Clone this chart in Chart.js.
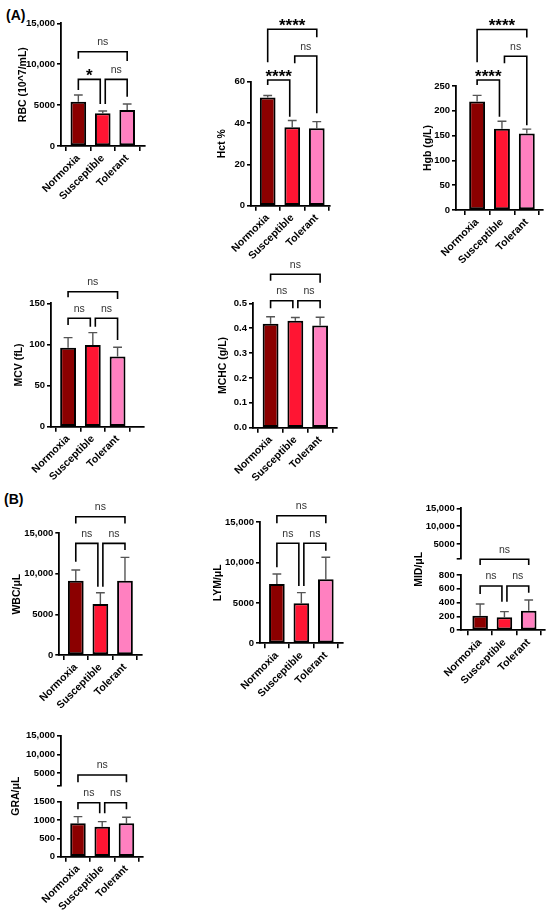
<!DOCTYPE html>
<html><head><meta charset="utf-8">
<script src="https://cdn.jsdelivr.net/npm/chart.js@4.4.1/dist/chart.umd.min.js"></script>
<style>
html,body{margin:0;padding:0;background:#fff;}
#wrap{position:relative;width:550px;height:911px;overflow:hidden;background:#fff;}
#wrap canvas{position:absolute;}
.lbl{position:absolute;font:bold 14px "Liberation Sans",Arial,sans-serif;line-height:14px;color:#000;}
</style></head><body>
<div id="wrap">
<div class="lbl" style="left:6px;top:8px">(A)</div>
<div class="lbl" style="left:4px;top:492px">(B)</div>
</div>
<script>
// ---------- data ----------
const categories = ['Normoxia', 'Susceptible', 'Tolerant'];

const rbcMean = [5420, 4000, 4400];   const rbcSD = [810, 280, 730];
const hctMean = [52.3, 38.0, 37.5];   const hctSD = [1.0, 3.2, 3.2];
const hgbMean = [219, 164, 154];      const hgbSD = [12, 15, 9];
const mcvMean = [96.1, 99.4, 85.2];   const mcvSD = [12.2, 15.0, 11.4];
const mchcMean = [0.418, 0.430, 0.411]; const mchcSD = [0.028, 0.013, 0.033];
const wbcMean = [9150, 6280, 9150];   const wbcSD = [1320, 1390, 2880];
const lymMean = [7360, 4960, 7940];   const lymSD = [1240, 1320, 2730];
const midMean = [212, 188, 284];      const midSD = [169, 82, 155];
const graMean = [912, 820, 912];      const graSD = [181, 136, 164];

const ticks15k = [0, 5000, 10000, 15000];
const hctTicks = [0, 20, 40, 60];
const hgbTicks = [0, 50, 100, 150, 200, 250];
const mcvTicks = [0, 50, 100, 150];
const mchcTicks = [0, 0.1, 0.2, 0.3, 0.4, 0.5];
const midLowTicks = [0, 200, 400, 600, 800];
const midHighTicks = [1000, 5000, 10000, 15000];
const graLowTicks = [0, 500, 1000, 1500];
const graHighTicks = [1500, 5000, 10000, 15000];

// significance brackets: [from, to, label, level, left leg end, right leg end]
const rbcSig = [[0,2,'ns',11520,10670,10390],[0,1,'*',8150,6840,5130],[1,2,'ns',8150,5130,6020]];
const hctSig = [[0,2,'****',85.4,69.4,81.5],[0,1,'****',60.8,58.4,43.1],[1,2,'ns',72.4,68.9,44.7]];
const hgbSig = [[0,2,'****',364,298,348],[0,1,'****',262,252,188],[1,2,'ns',310,296,171]];
const mcvSig = [[0,2,'ns',164.1,157.3,155.2],[0,1,'ns',131.8,123.6,121.6],[1,2,'ns',131.8,121.6,105.4]];
const mchcSig = [[0,2,'ns',0.617,0.591,0.583],[0,1,'ns',0.510,0.480,0.480],[1,2,'ns',0.510,0.480,0.480]];
const wbcSig = [[0,2,'ns',17040,16220,16220],[0,1,'ns',13760,11490,8410],[1,2,'ns',13760,8410,12930]];
const lymSig = [[0,2,'ns',15820,14880,14880],[0,1,'ns',12400,9420,7100],[1,2,'ns',12400,7100,11480]];
const midSig = [[0,2,'ns',1027,944,944],[0,1,'ns',641,525,414],[1,2,'ns',641,414,544]];
const graSig = [[0,2,'ns',2229,2030,2030],[0,1,'ns',1473,1293,1184],[1,2,'ns',1473,1184,1293]];

// ---------- styling ----------
const FONT = '"Liberation Sans", Arial, Helvetica, sans-serif';
const barColors = ['#8b0000', '#ff1533', '#ff80c0'];
Chart.defaults.font.family = FONT;
Chart.defaults.color = '#000';

const registry = {};

const annotPlugin = {
  id: 'annot',
  beforeDatasetsDraw(chart) {
    const a = registry[chart.canvas.id];
    if (!a || !a.mean) return;
    const ctx = chart.ctx, xs = chart.scales.x, ys = chart.scales.y;
    const meta = chart.getDatasetMeta(0);
    ctx.save();
    ctx.strokeStyle = '#555'; ctx.lineWidth = 1.4;
    a.mean.forEach((m, i) => {
      const x = xs.getPixelForValue(i);
      const y0 = ys.getPixelForValue(m), y1 = ys.getPixelForValue(m + a.sd[i]);
      const half = meta.data[i].width * 0.28;
      ctx.beginPath();
      ctx.moveTo(x, y0); ctx.lineTo(x, y1);
      ctx.moveTo(x - half, y1); ctx.lineTo(x + half, y1);
      ctx.stroke();
    });
    ctx.restore();
  },
  afterDraw(chart) {
    const a = registry[chart.canvas.id];
    if (!a) return;
    const ctx = chart.ctx, xs = chart.scales.x, ys = chart.scales.y;
    const n = categories.length;
    if (a.brackets) {
      ctx.save();
      ctx.strokeStyle = '#000'; ctx.lineWidth = 1.6; ctx.textAlign = 'center';
      a.brackets.forEach(([i, j, label, lvl, lEnd, rEnd]) => {
        let xl = xs.getPixelForValue(i), xr = xs.getPixelForValue(j);
        if (j - i === 1) { if (i > 0) xl += 2.5; if (j < n - 1) xr -= 2.5; }
        const yb = ys.getPixelForValue(lvl), yl = ys.getPixelForValue(lEnd), yr = ys.getPixelForValue(rEnd);
        ctx.beginPath();
        ctx.moveTo(xl, yl); ctx.lineTo(xl, yb); ctx.lineTo(xr, yb); ctx.lineTo(xr, yr);
        ctx.stroke();
        if (label === 'ns') {
          ctx.font = '10.5px ' + FONT; ctx.fillStyle = '#333';
          ctx.fillText(label, (xl + xr) / 2, yb - 6.5);
        } else {
          ctx.font = 'bold 17px ' + FONT; ctx.fillStyle = '#000';
          ctx.fillText(label, (xl + xr) / 2, yb + 1.5);
        }
      });
      ctx.restore();
    }
    if (a.sharedTitle) {
      const p = a.partner;
      const topY = p.top + p.chart.chartArea.top - a.top;
      const cy = (topY + chart.chartArea.bottom) / 2;
      const cx = ys.left + 6.3;
      ctx.save();
      ctx.translate(cx, cy); ctx.rotate(-Math.PI / 2);
      ctx.font = 'bold 10.5px ' + FONT; ctx.fillStyle = '#000';
      ctx.textAlign = 'center'; ctx.textBaseline = 'middle';
      ctx.fillText(a.sharedTitle, 0, 0);
      ctx.restore();
    }
  }
};

function fmtTick(v, dec) {
  if (dec) return v.toFixed(dec);
  if (v >= 10000) return v.toLocaleString('en-US');
  return String(v);
}

let uid = 0;
function makeChart(p) {
  const id = 'c' + (uid++);
  const canvas = document.createElement('canvas');
  canvas.id = id;
  const showX = p.showX !== false;
  const Wy = p.axisX - p.left;
  const padTop = p.plotTop - p.top;
  const width = Math.ceil(p.plotRight + 6 - p.left);
  const padRight = p.left + width - p.plotRight;
  const height = showX ? Math.ceil(p.plotBottom + 62 - p.top) : Math.ceil(p.plotBottom + 4 - p.top);
  const Hx = p.top + height - p.plotBottom;
  canvas.width = width; canvas.height = height;
  canvas.style.left = p.left + 'px'; canvas.style.top = p.top + 'px';
  canvas.style.width = width + 'px'; canvas.style.height = height + 'px';
  document.getElementById('wrap').appendChild(canvas);
  registry[id] = { mean: p.mean, sd: p.sd, brackets: p.brackets, sharedTitle: p.sharedTitle, partner: p.partner, top: p.top };

  const datasets = p.mean ? [{
    data: p.mean.map((v, i) => ({ x: i, y: v })),
    backgroundColor: barColors,
    borderColor: '#000',
    borderWidth: 2,
    borderSkipped: false,
    barPercentage: 1,
    categoryPercentage: 0.64
  }] : [];

  const chart = new Chart(canvas, {
    type: 'bar',
    data: { datasets },
    plugins: [annotPlugin],
    options: {
      responsive: false,
      animation: false,
      devicePixelRatio: 1,
      layout: { padding: { top: padTop, right: padRight, left: 0, bottom: showX ? 0 : Hx } },
      plugins: { legend: { display: false }, tooltip: { enabled: false } },
      scales: {
        x: {
          type: 'linear', display: showX, min: p.xMin, max: p.xMax, offset: false,
          afterBuildTicks: s => { s.ticks = categories.map((c, i) => ({ value: i })); },
          afterFit: s => { s.height = Hx; },
          ticks: {
            autoSkip: false, minRotation: 45, maxRotation: 45, padding: 1,
            callback: v => categories[v],
            font: { size: 10.5, weight: 'bold' }, color: '#000'
          },
          grid: { display: true, drawOnChartArea: false, drawTicks: true, tickLength: 5, color: '#000', lineWidth: 1.6 },
          border: { display: true, color: '#000', width: 1.8 }
        },
        y: {
          type: 'linear', min: p.yMin, max: p.yMax,
          afterBuildTicks: s => { s.ticks = p.ticks.map(v => ({ value: v })); },
          afterFit: s => { s.width = Wy; },
          ticks: {
            autoSkip: false, padding: 2,
            callback: (v, idx) => (p.hideFirst && idx === 0) ? '' : fmtTick(v, p.dec),
            font: { size: 9.5, weight: 'bold' }, color: '#000'
          },
          grid: { display: true, drawOnChartArea: false, drawTicks: true, tickLength: 4, color: '#000', lineWidth: 1.6 },
          border: { display: true, color: '#000', width: 1.8 },
          title: { display: !!p.title, text: p.title, font: { size: 10.5, weight: 'bold' }, color: '#000', padding: 0 }
        }
      }
    }
  });
  return { chart, top: p.top };
}

// ---------- panels (A) ----------
makeChart({ left: 17, top: 5, axisX: 61, plotTop: 23.3, plotBottom: 146, plotRight: 145, xMin: -0.71, xMax: 2.73,
  yMin: 0, yMax: 15000, ticks: ticks15k, title: 'RBC (10^7/mL)', mean: rbcMean, sd: rbcSD, brackets: rbcSig });
makeChart({ left: 216, top: 0, axisX: 251, plotTop: 81.7, plotBottom: 205.7, plotRight: 329.3, xMin: -0.68, xMax: 2.51,
  yMin: 0, yMax: 60, ticks: hctTicks, title: 'Hct %', mean: hctMean, sd: hctSD, brackets: hctSig });
makeChart({ left: 422, top: 0, axisX: 456, plotTop: 86, plotBottom: 210, plotRight: 542.7, xMin: -0.85, xMax: 2.64,
  yMin: 0, yMax: 250, ticks: hgbTicks, title: 'Hgb (g/L)', mean: hgbMean, sd: hgbSD, brackets: hgbSig });
makeChart({ left: 13, top: 270, axisX: 51, plotTop: 303.3, plotBottom: 426.7, plotRight: 143.3, xMin: -0.69, xMax: 3.04,
  yMin: 0, yMax: 150, ticks: mcvTicks, title: 'MCV (fL)', mean: mcvMean, sd: mcvSD, brackets: mcvSig });
makeChart({ left: 217, top: 255, axisX: 253, plotTop: 303.3, plotBottom: 427.7, plotRight: 336.7, xMin: -0.71, xMax: 2.67,
  yMin: 0, yMax: 0.5, ticks: mchcTicks, dec: 1, title: 'MCHC (g/L)', mean: mchcMean, sd: mchcSD, brackets: mchcSig });

// ---------- panels (B) ----------
makeChart({ left: 11, top: 495, axisX: 59.3, plotTop: 533.3, plotBottom: 655, plotRight: 141.7, xMin: -0.67, xMax: 2.68,
  yMin: 0, yMax: 15000, ticks: ticks15k, title: 'WBC/μL', mean: wbcMean, sd: wbcSD, brackets: wbcSig });
makeChart({ left: 212, top: 495, axisX: 260, plotTop: 522.3, plotBottom: 643.3, plotRight: 342.7, xMin: -0.69, xMax: 2.69,
  yMin: 0, yMax: 15000, ticks: ticks15k, title: 'LYM/μL', mean: lymMean, sd: lymSD, brackets: lymSig });

const midTop = makeChart({ left: 413, top: 498, axisX: 460.7, plotTop: 508.3, plotBottom: 562.7, plotRight: 545, xMin: -0.8, xMax: 2.67,
  showX: false, yMin: 1000, yMax: 15000, ticks: midHighTicks, hideFirst: true });
makeChart({ left: 413, top: 500, axisX: 460.7, plotTop: 575, plotBottom: 630.3, plotRight: 545, xMin: -0.8, xMax: 2.67,
  yMin: 0, yMax: 800, ticks: midLowTicks, mean: midMean, sd: midSD, brackets: midSig, sharedTitle: 'MID/μL', partner: midTop });

const graTop = makeChart({ left: 10, top: 726, axisX: 61, plotTop: 735.7, plotBottom: 790, plotRight: 142.7, xMin: -0.7, xMax: 2.67,
  showX: false, yMin: 1500, yMax: 15000, ticks: graHighTicks, hideFirst: true });
makeChart({ left: 10, top: 750, axisX: 61, plotTop: 801.7, plotBottom: 856.7, plotRight: 142.7, xMin: -0.7, xMax: 2.67,
  yMin: 0, yMax: 1500, ticks: graLowTicks, mean: graMean, sd: graSD, brackets: graSig, sharedTitle: 'GRA/μL', partner: graTop });
</script>
</body></html>
